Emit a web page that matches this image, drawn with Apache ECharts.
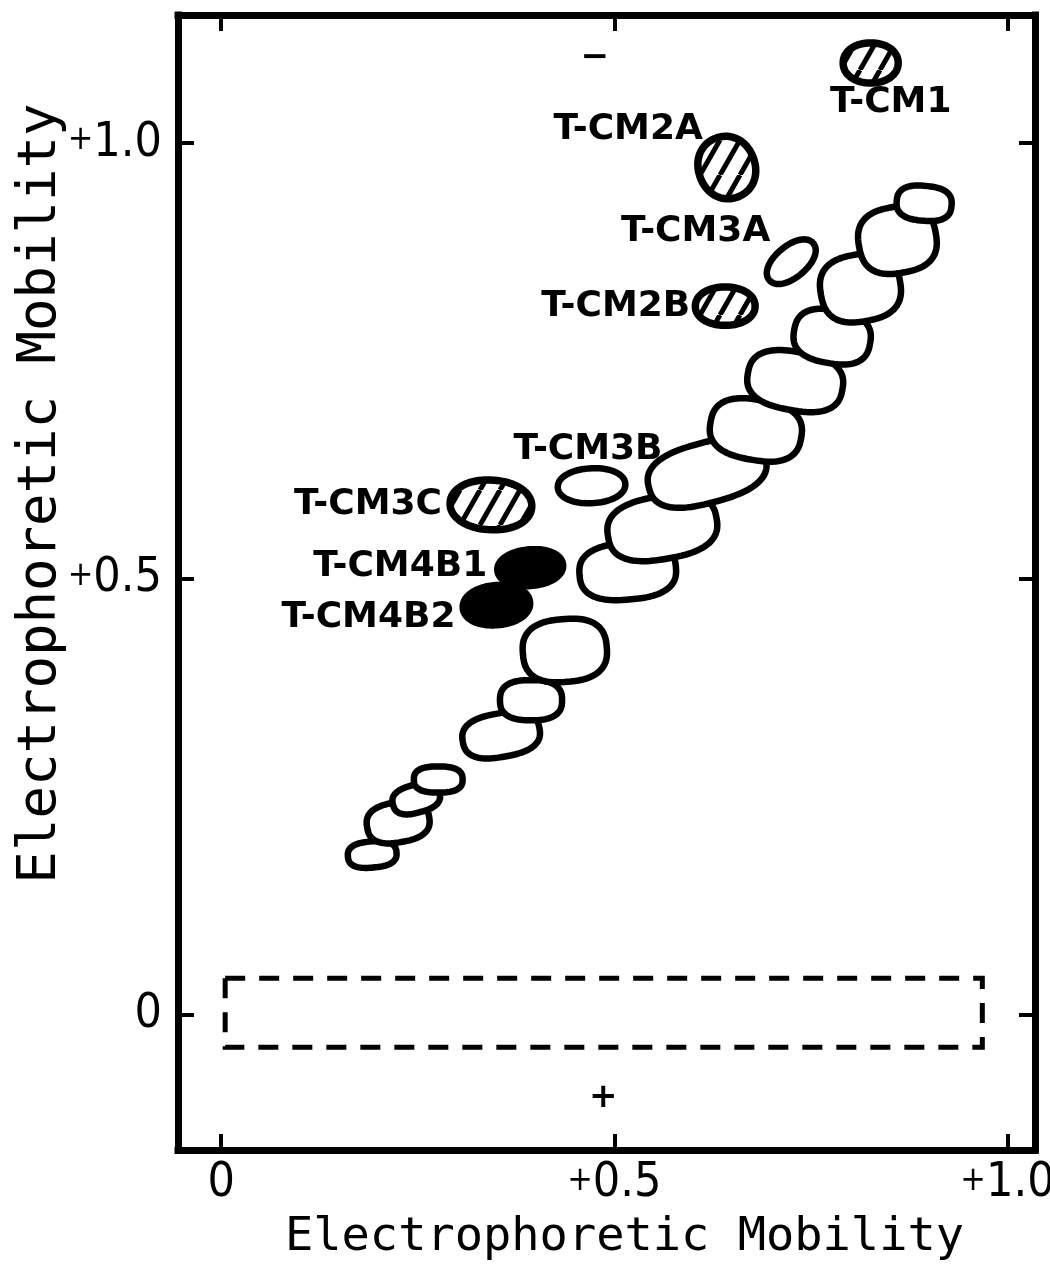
<!DOCTYPE html>
<html>
<head>
<meta charset="utf-8">
<script src="https://cdn.jsdelivr.net/npm/echarts@6/dist/echarts.min.js"></script>
<style>
  html, body { margin: 0; padding: 0; background: #fff; }
  #chart { width: 1050px; height: 1264px; }
</style>
</head>
<body>
<div id="chart"></div>
<script>
// axis ticks
const xTicks = [0, 0.5, 1.0];
const xTickLabels = ['0', '+0.5', '+1.0'];
const yTicks = [0, 0.5, 1.0];
const yTickLabels = ['0', '+0.5', '+1.0'];

// unnamed spots of the diagonal streak, bottom end first (mobility units)
const streakX = [0.192, 0.225, 0.248, 0.276, 0.356, 0.394, 0.437, 0.517, 0.561, 0.618, 0.680, 0.730, 0.777, 0.813, 0.860, 0.894];
const streakY = [0.184, 0.221, 0.248, 0.270, 0.321, 0.361, 0.418, 0.509, 0.559, 0.622, 0.671, 0.727, 0.778, 0.834, 0.889, 0.931];
const streakW = [0.062, 0.080, 0.061, 0.062, 0.099, 0.079, 0.107, 0.123, 0.140, 0.153, 0.117, 0.122, 0.098, 0.102, 0.099, 0.070];
const streakH = [0.030, 0.046, 0.032, 0.030, 0.050, 0.046, 0.072, 0.065, 0.072, 0.069, 0.069, 0.067, 0.061, 0.077, 0.076, 0.040];
const streakTilt = [5, 10, 15, 0, 10, 0, 5, 5, 10, 15, -10, -10, -10, 10, 10, -5];

// named spots
const spotNames = ['T-CM1', 'T-CM2A', 'T-CM3A', 'T-CM2B', 'T-CM3B', 'T-CM3C', 'T-CM4B1', 'T-CM4B2'];
const spotX = [0.826, 0.643, 0.725, 0.641, 0.471, 0.343, 0.393, 0.350];
const spotY = [1.092, 0.972, 0.864, 0.813, 0.607, 0.585, 0.513, 0.470];
const spotW = [0.070, 0.072, 0.073, 0.076, 0.086, 0.104, 0.084, 0.086];
const spotH = [0.046, 0.072, 0.036, 0.044, 0.040, 0.057, 0.042, 0.046];
const spotTilt = [0, 20, 40, 0, 3, -3, 5, 5];
const spotStain = ['hatched', 'hatched', 'open', 'hatched', 'open', 'hatched', 'solid', 'solid'];

// origin (dashed box) and electrode signs
const originBoxX = [0.005, 0.968];
const originBoxY = [-0.037, 0.042];
const poleSigns = ['\u2212', '+'];
const poleX = [0.475, 0.486];
const poleY = [1.098, -0.095];

// where each name sits relative to its spot (px)
const labelPlace = {
  'T-CM1': [20, 40, 'center'],
  'T-CM2A': [-24, -38, 'right'],
  'T-CM3A': [-21, -30, 'right'],
  'T-CM2B': [-35, 0, 'right'],
  'T-CM3B': [71, -36, 'right'],
  'T-CM3C': [-49, 0, 'right'],
  'T-CM4B1': [-43, -1, 'right'],
  'T-CM4B2': [-41, 12, 'right']
};

const stainKinds = ['open', 'hatched', 'solid'];

function hatchPattern() {
  const w = 20, h = 35;
  const cv = document.createElement('canvas');
  cv.width = w; cv.height = h;
  const g = cv.getContext('2d');
  g.fillStyle = '#fff';
  g.fillRect(0, 0, w, h);
  g.strokeStyle = '#000';
  g.lineWidth = 5;
  g.beginPath();
  for (let k = -1; k <= 1; k++) {
    g.moveTo(k * w, h);
    g.lineTo((k + 1) * w, 0);
  }
  g.stroke();
  return { image: cv, repeat: 'repeat' };
}
const hatch = hatchPattern();

function blobPoints(api, cx, cy, w, h, tilt, n) {
  const c = api.coord([cx, cy]);
  const s = api.size([w, h]);
  const a = s[0] / 2, b = s[1] / 2;
  const th = tilt * Math.PI / 180;
  const pts = [];
  for (let i = 0; i < 90; i++) {
    const t = i / 90 * 2 * Math.PI;
    const ct = Math.cos(t), st = Math.sin(t);
    const x = a * Math.sign(ct) * Math.pow(Math.abs(ct), 2 / n);
    const y = b * Math.sign(st) * Math.pow(Math.abs(st), 2 / n);
    pts.push([c[0] + x * Math.cos(th) + y * Math.sin(th), c[1] - x * Math.sin(th) + y * Math.cos(th)]);
  }
  return pts;
}

const tickFont = "'DejaVu Sans Condensed', 'DejaVu Sans', sans-serif";
const nameFont = "'DejaVu Sans Mono', monospace";
const spotFont = "'DejaVu Sans', sans-serif";

const X_MIN = -0.055, X_MAX = 1.035, Y_MIN = -0.155, Y_MAX = 1.147;

function baseAxis(extra) {
  return Object.assign({
    type: 'value',
    axisLine: { show: true, onZero: false, lineStyle: { color: '#000', width: 7, cap: 'square' } },
    splitLine: { show: false }
  }, extra);
}

const tickStyle = { color: '#000', width: 4 };

// small plus sign in front of the number, as on the original
function tickText(labels, ticks) {
  return v => {
    const t = labels[ticks.indexOf(v)];
    return t.charAt(0) === '+' ? '{s|+}{n|' + t.slice(1) + '}' : '{n|' + t + '}';
  };
}
const tickRich = {
  s: { fontSize: 34, fontFamily: tickFont, color: '#000', verticalAlign: 'middle', padding: [0, 0, 6, 0] },
  n: { fontSize: 48, fontFamily: tickFont, color: '#000', verticalAlign: 'middle' }
};

const chart = echarts.init(document.getElementById('chart'));
chart.setOption({
  backgroundColor: '#fff',
  animation: false,
  grid: { left: 178, right: 15, top: 15, bottom: 114, containLabel: false, outerBoundsMode: 'none' },
  xAxis: [
    baseAxis({
      min: X_MIN, max: X_MAX, position: 'bottom',
      axisTick: { show: true, inside: true, length: 16, customValues: xTicks, lineStyle: tickStyle },
      axisLabel: {
        customValues: xTicks, margin: 10, color: '#000',
        formatter: tickText(xTickLabels, xTicks), rich: tickRich
      },
      name: 'Electrophoretic Mobility', nameLocation: 'middle', nameGap: 64, nameMoveOverlap: false,
      nameTextStyle: { color: '#000', fontSize: 47, fontFamily: nameFont, padding: [0, 0, 0, 36] }
    }),
    baseAxis({
      min: X_MIN, max: X_MAX, position: 'top',
      axisTick: { show: true, inside: true, length: 16, customValues: xTicks, lineStyle: tickStyle },
      axisLabel: { show: false }
    })
  ],
  yAxis: [
    baseAxis({
      min: Y_MIN, max: Y_MAX, position: 'left',
      axisTick: { show: true, inside: true, length: 16, customValues: yTicks, lineStyle: tickStyle },
      axisLabel: {
        customValues: yTicks, margin: 16, color: '#000',
        formatter: tickText(yTickLabels, yTicks), rich: tickRich
      },
      name: 'Electrophoretic Mobility', nameLocation: 'middle', nameGap: 110, nameMoveOverlap: false,
      nameTextStyle: { color: '#000', fontSize: 54, fontFamily: nameFont, padding: [0, 0, 0, 178] }
    }),
    baseAxis({
      min: Y_MIN, max: Y_MAX, position: 'right',
      axisTick: { show: true, inside: true, length: 16, customValues: yTicks, lineStyle: tickStyle },
      axisLabel: { show: false }
    })
  ],
  series: [
    {
      name: 'origin',
      type: 'custom',
      clip: false,
      data: [[originBoxX[0], originBoxY[0], originBoxX[1], originBoxY[1]]],
      renderItem: (params, api) => {
        const p0 = api.coord([api.value(0), api.value(3)]);
        const p1 = api.coord([api.value(2), api.value(1)]);
        return {
          type: 'rect',
          shape: { x: p0[0], y: p0[1], width: p1[0] - p0[0], height: p1[1] - p0[1] },
          style: { fill: 'none', stroke: '#000', lineWidth: 5, lineDash: [20, 14] }
        };
      }
    },
    {
      name: 'poles',
      type: 'custom',
      clip: false,
      data: poleX.map((x, i) => [x, poleY[i], i]),
      renderItem: (params, api) => {
        const c = api.coord([api.value(0), api.value(1)]);
        return {
          type: 'text',
          x: c[0], y: c[1],
          style: {
            text: poleSigns[api.value(2)], fill: '#000',
            font: "bold 34px 'DejaVu Sans', sans-serif",
            textAlign: 'center', textVerticalAlign: 'middle'
          }
        };
      }
    },
    {
      name: 'streak',
      type: 'custom',
      clip: false,
      data: streakX.map((x, i) => [x, streakY[i], streakW[i], streakH[i], streakTilt[i]]),
      renderItem: (params, api) => ({
        type: 'polygon',
        shape: { points: blobPoints(api, api.value(0), api.value(1), api.value(2), api.value(3), api.value(4), 2.6) },
        style: { fill: '#fff', stroke: '#000', lineWidth: 6.5, lineJoin: 'round' }
      })
    },
    {
      name: 'spots',
      type: 'custom',
      clip: false,
      data: spotX.map((x, i) => [x, spotY[i], spotW[i], spotH[i], spotTilt[i], stainKinds.indexOf(spotStain[i])]),
      renderItem: (params, api) => {
        const kind = stainKinds[api.value(5)];
        const fill = kind === 'solid' ? '#000' : kind === 'hatched' ? hatch : '#fff';
        return {
          type: 'polygon',
          shape: { points: blobPoints(api, api.value(0), api.value(1), api.value(2), api.value(3), api.value(4), 2.1) },
          style: { fill: fill, stroke: '#000', lineWidth: kind === 'hatched' ? 7.5 : 6.5, lineJoin: 'round' }
        };
      }
    },
    {
      name: 'names',
      type: 'custom',
      clip: false,
      data: spotX.map((x, i) => [x, spotY[i], i]),
      renderItem: (params, api) => {
        const c = api.coord([api.value(0), api.value(1)]);
        const nm = spotNames[api.value(2)];
        const pl = labelPlace[nm];
        return {
          type: 'text',
          x: c[0] + pl[0], y: c[1] + pl[1],
          style: {
            text: nm, fill: '#000',
            font: 'bold 36px ' + spotFont,
            textAlign: pl[2], textVerticalAlign: 'middle'
          }
        };
      }
    }
  ]
});
</script>
</body>
</html>
